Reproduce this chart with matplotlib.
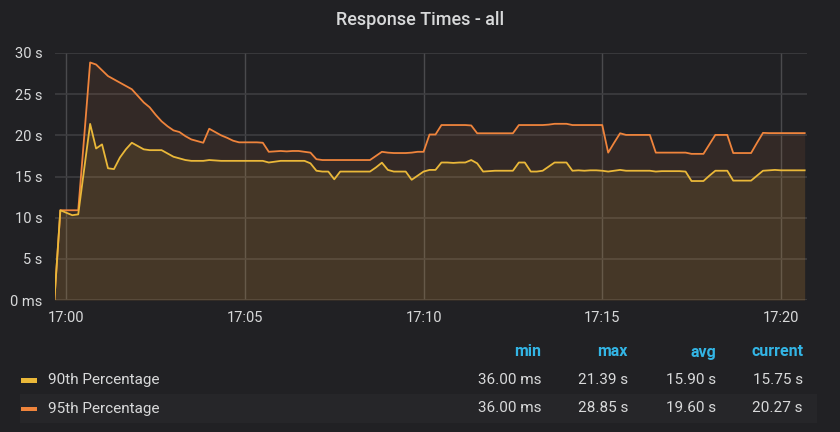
import matplotlib
matplotlib.use("Agg")
import matplotlib.pyplot as plt
from matplotlib.patches import Rectangle
import numpy as np

# ---------------- data ----------------
start_offset_s = -20      # first sample at 16:59:40 (seconds relative to 17:00)
step_s = 10               # sampling interval (s)

p95 = [0.036, 10.9, 10.9, 10.9, 10.9, 19.8, 28.85, 28.6, 27.9, 27.2,
       26.8, 26.4, 26.0, 25.6, 24.8, 24.0, 23.4, 22.5, 21.7, 21.1,
       20.6, 20.4, 19.9, 19.5, 19.3, 19.1, 20.8, 20.4, 20.0, 19.7,
       19.35, 19.15, 19.15, 19.15, 19.15, 19.1, 18.0, 18.05, 18.1, 18.05,
       18.1, 18.1, 18.0, 17.9, 17.1, 17.0, 17.0, 17.0, 17.0, 17.0,
       17.0, 17.0, 17.0, 17.0, 17.5, 18.0, 17.9, 17.85, 17.85, 17.85,
       17.9, 18.0, 18.0, 20.1, 20.1, 21.25, 21.25, 21.25, 21.25, 21.25,
       21.2, 20.25, 20.25, 20.25, 20.25, 20.25, 20.25, 20.25, 21.25, 21.25,
       21.25, 21.25, 21.25, 21.3, 21.4, 21.4, 21.4, 21.25, 21.25, 21.25,
       21.25, 21.25, 21.25, 17.9, 19.1, 20.25, 20.05, 20.05, 20.05, 20.05,
       20.05, 17.9, 17.9, 17.9, 17.9, 17.9, 17.9, 17.75, 17.75, 17.75,
       18.9, 20.05, 20.05, 20.05, 17.85, 17.85, 17.85, 17.85, 19.1, 20.3,
       20.27, 20.27, 20.27, 20.27, 20.27, 20.27, 20.27]

p90 = [0.036, 10.9, 10.6, 10.3, 10.4, 15.9, 21.39, 18.4, 18.9, 16.0,
       15.9, 17.3, 18.3, 19.1, 18.7, 18.3, 18.2, 18.2, 18.2, 17.8,
       17.4, 17.2, 17.0, 16.9, 16.9, 16.9, 17.0, 16.95, 16.9, 16.9,
       16.9, 16.9, 16.9, 16.9, 16.9, 16.9, 16.7, 16.8, 16.9, 16.9,
       16.9, 16.9, 16.9, 16.6, 15.7, 15.6, 15.6, 14.66, 15.6, 15.6,
       15.6, 15.6, 15.6, 15.6, 16.1, 16.68, 15.8, 15.6, 15.6, 15.6,
       14.6, 15.1, 15.6, 15.8, 15.8, 16.7, 16.7, 16.65, 16.7, 16.7,
       17.0, 16.6, 15.6, 15.65, 15.7, 15.7, 15.7, 15.7, 16.7, 16.7,
       15.6, 15.6, 15.7, 16.2, 16.7, 16.7, 16.7, 15.7, 15.75, 15.7,
       15.75, 15.75, 15.7, 15.6, 15.7, 15.8, 15.7, 15.7, 15.7, 15.7,
       15.7, 15.6, 15.65, 15.65, 15.65, 15.65, 15.6, 14.45, 14.45, 14.45,
       15.1, 15.7, 15.7, 15.7, 14.5, 14.5, 14.5, 14.5, 15.1, 15.7,
       15.75, 15.8, 15.75, 15.75, 15.75, 15.75, 15.75]

series_names = ["90th Percentage", "95th Percentage"]
stat_headers = ["min", "max", "avg", "current"]
stats_90 = ["36.00 ms", "21.39 s", "15.90 s", "15.75 s"]
stats_95 = ["36.00 ms", "28.85 s", "19.60 s", "20.27 s"]

xtick_pos = [0, 300, 600, 900, 1200]
xtick_labels = ["17:00", "17:05", "17:10", "17:15", "17:20"]
ytick_pos = [0, 5, 10, 15, 20, 25, 30]
ytick_labels = ["0 ms", "5 s", "10 s", "15 s", "20 s", "25 s", "30 s"]

title = "Response Times - all"

# ---------------- style ----------------
BG = "#212124"
TXT = "#d8d9da"
YEL = "#eab839"
ORA = "#ef843c"
GRID = "#3d3d40"
BLUE = "#33b5e5"
FONT = ["Roboto", "DejaVu Sans"]
plt.rcParams["font.family"] = FONT

W, H = 840, 432
fig = plt.figure(figsize=(W / 100, H / 100), dpi=100, facecolor=BG)

def fx(px):
    return px / W

def fy(py):
    return 1 - py / H

ax = fig.add_axes([fx(55), fy(300), fx(807) - fx(55), fy(53) - fy(300)])
ax.set_facecolor(BG)

t95 = start_offset_s + step_s * np.arange(len(p95))
t90 = start_offset_s + step_s * np.arange(len(p90))

ax.fill_between(t95, 0, p95, color=ORA, alpha=0.09, lw=0, zorder=2)
ax.fill_between(t90, 0, p90, color=YEL, alpha=0.10, lw=0, zorder=3)
ax.plot(t95, p95, color=ORA, lw=1.3, zorder=5, solid_joinstyle="round")
ax.plot(t90, p90, color=YEL, lw=1.3, zorder=6, solid_joinstyle="round")

ax.set_xlim(start_offset_s + 1.0, start_offset_s + 1263.9)
ax.set_ylim(0, 30)

ax.set_xticks(xtick_pos)
ax.set_xticklabels(xtick_labels)
ax.set_yticks(ytick_pos)
ax.set_yticklabels(ytick_labels)
ax.tick_params(axis="both", length=0, colors=TXT, labelsize=10.5)
ax.tick_params(axis="x", pad=8)
ax.tick_params(axis="y", pad=9)
ax.grid(True, axis="y", color=GRID, lw=1.2, zorder=1)
ax.grid(True, axis="x", color="#4a4a4d", lw=1.0, zorder=1)
for s in ax.spines.values():
    s.set_visible(False)

# title
fig.text(0.5, fy(20), title, ha="center", va="center", color=TXT,
         fontsize=13, fontweight="medium")

# legend table
fig.patches.append(Rectangle((fx(20), fy(423)), fx(817) - fx(20), fy(394) - fy(423),
                             transform=fig.transFigure, facecolor="#262629",
                             edgecolor="none", zorder=0))
col_right = [541, 628, 716, 803]
for xr, hdr in zip(col_right, stat_headers):
    fig.text(fx(xr), fy(352), hdr, ha="right", va="center", color=BLUE,
             fontsize=11.5, fontweight="bold")

rows_y = [380, 408.5]
for ry, name, color, stats in zip(rows_y, series_names, [YEL, ORA], [stats_90, stats_95]):
    fig.patches.append(Rectangle((fx(21), fy(ry + 2.5)), fx(37) - fx(21), fy(ry - 2) - fy(ry + 2.5),
                                 transform=fig.transFigure, facecolor=color,
                                 edgecolor="none", zorder=1))
    fig.text(fx(48), fy(ry), name, ha="left", va="center", color=TXT, fontsize=11)
    for xr, val in zip(col_right, stats):
        fig.text(fx(xr), fy(ry), val, ha="right", va="center", color=TXT, fontsize=11)

fig.savefig("out.png", dpi=100, facecolor=BG)
